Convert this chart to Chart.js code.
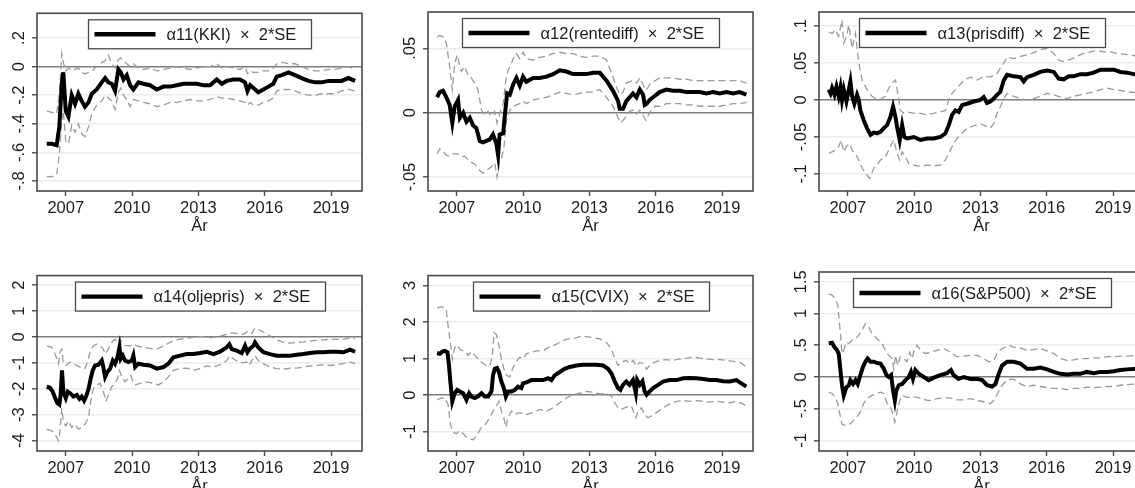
<!DOCTYPE html>
<html>
<head>
<meta charset="utf-8">
<script src="https://cdn.jsdelivr.net/npm/chart.js@4.4.1/dist/chart.umd.min.js"></script>
<style>
  html, body { margin: 0; padding: 0; background: #fff; overflow: hidden; width: 1135px; height: 488px; }
  canvas { position: absolute; }
</style>
</head>
<body>
<canvas id="p11" width="391" height="260" style="left:0;top:0"></canvas>
<canvas id="p12" width="391" height="260" style="left:391px;top:0"></canvas>
<canvas id="p13" width="391" height="260" style="left:782px;top:0"></canvas>
<canvas id="p14" width="391" height="260" style="left:0;top:260px"></canvas>
<canvas id="p15" width="391" height="260" style="left:391px;top:260px"></canvas>
<canvas id="p16" width="391" height="260" style="left:782px;top:260px"></canvas>
<script>
// rolling coefficient estimates, [year, value]
const kkiEst = [[2006.14,-.54],[2006.37,-.54],[2006.59,-.55],[2006.71,-.42],[2006.82,-.12],[2006.89,-.04],[2007.00,-.31],[2007.12,-.35],[2007.27,-.20],[2007.42,-.26],[2007.57,-.19],[2007.72,-.24],[2007.87,-.28],[2008.03,-.25],[2008.18,-.19],[2008.40,-.16],[2008.63,-.11],[2008.78,-.08],[2008.93,-.11],[2009.08,-.12],[2009.23,-.17],[2009.38,-.02],[2009.49,-.04],[2009.61,-.09],[2009.76,-.06],[2009.91,-.13],[2010.06,-.16],[2010.29,-.11],[2010.51,-.12],[2010.81,-.13],[2011.12,-.16],[2011.42,-.14],[2011.72,-.14],[2012.02,-.13],[2012.32,-.12],[2012.62,-.12],[2012.92,-.12],[2013.23,-.13],[2013.53,-.13],[2013.83,-.09],[2014.06,-.12],[2014.28,-.10],[2014.58,-.09],[2014.88,-.09],[2015.11,-.11],[2015.22,-.17],[2015.34,-.13],[2015.49,-.15],[2015.71,-.18],[2015.94,-.16],[2016.17,-.14],[2016.39,-.12],[2016.54,-.07],[2016.77,-.06],[2017.07,-.04],[2017.37,-.06],[2017.67,-.08],[2017.98,-.10],[2018.28,-.11],[2018.58,-.11],[2018.88,-.10],[2019.18,-.10],[2019.48,-.10],[2019.78,-.08],[2020.09,-.10]];
const kkiHi = [[2006.14,-.31],[2006.37,-.32],[2006.59,-.33],[2006.71,-.19],[2006.82,.09],[2006.89,.03],[2007.00,-.03],[2007.12,-.01],[2007.27,-.03],[2007.42,-.02],[2007.57,-.01],[2007.72,-.04],[2007.87,-.05],[2008.03,-.04],[2008.18,-.03],[2008.40,0],[2008.63,.03],[2008.78,.04],[2008.93,.08],[2009.08,.02],[2009.23,-.01],[2009.38,.05],[2009.49,.06],[2009.61,.04],[2009.76,.02],[2009.91,0],[2010.06,.02],[2010.29,-.01],[2010.51,-.02],[2010.81,-.01],[2011.12,-.03],[2011.42,-.02],[2011.72,-.01],[2012.02,0],[2012.32,-.01],[2012.62,-.02],[2012.92,-.01],[2013.23,0],[2013.53,0],[2013.83,.02],[2014.06,-.01],[2014.28,0],[2014.58,-.01],[2014.88,-.02],[2015.11,0],[2015.22,-.05],[2015.34,-.03],[2015.49,-.04],[2015.71,-.04],[2015.94,-.03],[2016.17,-.03],[2016.39,-.01],[2016.54,.02],[2016.77,.03],[2017.07,.02],[2017.37,.02],[2017.67,0],[2017.98,-.02],[2018.28,-.03],[2018.58,-.03],[2018.88,-.02],[2019.18,-.02],[2019.48,-.01],[2019.78,0],[2020.09,-.02]];
const kkiLo = [[2006.14,-.77],[2006.37,-.77],[2006.59,-.76],[2006.71,-.61],[2006.82,-.38],[2006.89,-.31],[2007.00,-.52],[2007.12,-.54],[2007.27,-.41],[2007.42,-.46],[2007.57,-.40],[2007.72,-.47],[2007.87,-.49],[2008.03,-.42],[2008.18,-.33],[2008.40,-.27],[2008.63,-.24],[2008.78,-.20],[2008.93,-.22],[2009.08,-.24],[2009.23,-.30],[2009.38,-.18],[2009.49,-.15],[2009.61,-.20],[2009.76,-.23],[2009.91,-.28],[2010.06,-.23],[2010.29,-.24],[2010.51,-.25],[2010.81,-.26],[2011.12,-.28],[2011.42,-.27],[2011.72,-.25],[2012.02,-.25],[2012.32,-.24],[2012.62,-.23],[2012.92,-.24],[2013.23,-.24],[2013.53,-.23],[2013.83,-.21],[2014.06,-.22],[2014.28,-.22],[2014.58,-.23],[2014.88,-.24],[2015.11,-.25],[2015.22,-.27],[2015.34,-.25],[2015.49,-.27],[2015.71,-.27],[2015.94,-.25],[2016.17,-.24],[2016.39,-.22],[2016.54,-.17],[2016.77,-.16],[2017.07,-.16],[2017.37,-.17],[2017.67,-.19],[2017.98,-.20],[2018.28,-.20],[2018.58,-.19],[2018.88,-.19],[2019.18,-.19],[2019.48,-.17],[2019.78,-.16],[2020.09,-.17]];

const renteEst = [[2006.11,.012],[2006.23,.016],[2006.38,.017],[2006.53,.012],[2006.68,.006],[2006.80,-.008],[2006.91,.005],[2007.06,.010],[2007.14,-.004],[2007.29,0],[2007.44,-.007],[2007.59,-.004],[2007.74,-.010],[2007.89,-.012],[2008.04,-.022],[2008.19,-.023],[2008.34,-.022],[2008.49,-.021],[2008.64,-.017],[2008.79,-.024],[2008.87,-.033],[2008.94,-.017],[2009.10,-.016],[2009.17,-.003],[2009.28,.015],[2009.40,.014],[2009.55,.022],[2009.70,.027],[2009.85,.021],[2010.00,.028],[2010.15,.024],[2010.45,.027],[2010.75,.027],[2011.06,.028],[2011.36,.030],[2011.66,.033],[2011.96,.032],[2012.26,.030],[2012.56,.030],[2012.86,.030],[2013.17,.031],[2013.47,.031],[2013.77,.025],[2014.07,.017],[2014.30,.009],[2014.37,.003],[2014.52,.003],[2014.67,.009],[2014.82,.012],[2014.97,.015],[2015.13,.012],[2015.28,.018],[2015.43,.014],[2015.50,.006],[2015.59,.007],[2015.73,.010],[2015.88,.012],[2016.18,.016],[2016.48,.018],[2016.78,.017],[2017.09,.017],[2017.39,.016],[2017.69,.016],[2017.99,.016],[2018.29,.015],[2018.59,.016],[2018.90,.015],[2019.20,.016],[2019.50,.015],[2019.80,.016],[2020.10,.014]];
const renteHi = [[2006.11,.059],[2006.23,.060],[2006.38,.059],[2006.53,.054],[2006.68,.036],[2006.80,.018],[2006.91,.038],[2007.02,.045],[2007.14,.036],[2007.21,.032],[2007.36,.036],[2007.51,.029],[2007.66,.027],[2007.81,.023],[2007.96,.018],[2008.12,.002],[2008.27,-.002],[2008.42,.001],[2008.57,-.003],[2008.72,.001],[2008.82,-.008],[2008.94,-.001],[2009.10,.007],[2009.22,.025],[2009.32,.033],[2009.47,.038],[2009.55,.042],[2009.70,.046],[2009.85,.042],[2010.00,.047],[2010.15,.042],[2010.45,.041],[2010.75,.043],[2011.06,.044],[2011.36,.046],[2011.66,.047],[2011.96,.046],[2012.26,.046],[2012.56,.044],[2012.86,.043],[2013.17,.044],[2013.47,.044],[2013.77,.041],[2014.00,.031],[2014.22,.020],[2014.37,.014],[2014.52,.016],[2014.67,.023],[2014.82,.024],[2014.97,.025],[2015.13,.023],[2015.28,.027],[2015.43,.022],[2015.50,.018],[2015.59,.018],[2015.73,.022],[2015.88,.024],[2016.18,.027],[2016.48,.027],[2016.78,.027],[2017.09,.026],[2017.39,.026],[2017.69,.025],[2017.99,.025],[2018.29,.025],[2018.59,.025],[2018.90,.025],[2019.20,.025],[2019.50,.025],[2019.80,.025],[2020.10,.023]];
const renteLo = [[2006.11,-.032],[2006.23,-.028],[2006.38,-.030],[2006.53,-.033],[2006.68,-.034],[2006.83,-.032],[2007.06,-.032],[2007.21,-.034],[2007.36,-.034],[2007.59,-.038],[2007.81,-.040],[2008.04,-.045],[2008.19,-.047],[2008.34,-.045],[2008.57,-.042],[2008.72,-.039],[2008.82,-.050],[2008.91,-.039],[2009.02,-.035],[2009.13,-.028],[2009.25,-.006],[2009.40,.002],[2009.55,.005],[2009.70,.006],[2009.85,.007],[2010.00,.009],[2010.15,.007],[2010.45,.010],[2010.75,.011],[2011.06,.012],[2011.36,.014],[2011.66,.016],[2011.96,.015],[2012.26,.014],[2012.56,.015],[2012.86,.016],[2013.17,.016],[2013.47,.018],[2013.77,.012],[2014.07,.005],[2014.30,-.004],[2014.40,-.008],[2014.52,-.006],[2014.67,-.003],[2014.82,.001],[2014.97,.002],[2015.13,-.001],[2015.28,.002],[2015.43,-.002],[2015.55,-.006],[2015.66,-.002],[2015.80,.002],[2015.96,.005],[2016.18,.005],[2016.48,.007],[2016.78,.007],[2017.09,.007],[2017.39,.006],[2017.69,.006],[2017.99,.005],[2018.29,.005],[2018.59,.005],[2018.90,.005],[2019.20,.006],[2019.50,.007],[2019.80,.007],[2020.10,.008]];

const prisEst = [[2006.14,.014],[2006.22,.009],[2006.29,.016],[2006.40,.007],[2006.49,.018],[2006.59,.005],[2006.67,.017],[2006.74,0],[2006.82,.014],[2006.94,-.002],[2007.05,.014],[2007.12,.025],[2007.20,.005],[2007.30,-.005],[2007.42,.007],[2007.50,0],[2007.57,-.014],[2007.72,-.027],[2007.87,-.038],[2008.03,-.047],[2008.18,-.044],[2008.33,-.045],[2008.48,-.043],[2008.63,-.038],[2008.78,-.034],[2008.93,-.023],[2009.05,-.009],[2009.16,-.023],[2009.23,-.036],[2009.35,-.054],[2009.46,-.034],[2009.56,-.050],[2009.68,-.052],[2009.99,-.050],[2010.29,-.054],[2010.59,-.052],[2010.89,-.052],[2011.19,-.050],[2011.42,-.045],[2011.57,-.034],[2011.72,-.020],[2011.87,-.014],[2012.02,-.016],[2012.17,-.007],[2012.40,-.005],[2012.70,-.002],[2013.00,0],[2013.15,.004],[2013.30,-.004],[2013.45,-.002],[2013.60,.002],[2013.75,.007],[2013.90,.011],[2014.06,.027],[2014.21,.034],[2014.51,.032],[2014.81,.031],[2014.96,.025],[2015.11,.031],[2015.41,.034],[2015.71,.038],[2016.02,.040],[2016.32,.038],[2016.54,.029],[2016.77,.028],[2017.00,.032],[2017.22,.032],[2017.52,.035],[2017.82,.035],[2018.13,.037],[2018.43,.041],[2018.73,.041],[2019.03,.041],[2019.33,.038],[2019.63,.037],[2020.09,.034]];
const prisHi = [[2006.14,.092],[2006.29,.090],[2006.44,.095],[2006.59,.086],[2006.74,.108],[2006.82,.077],[2006.94,.086],[2007.05,.101],[2007.20,.070],[2007.35,.090],[2007.50,.050],[2007.65,.027],[2007.87,.014],[2008.10,.005],[2008.25,.002],[2008.48,.001],[2008.70,.005],[2008.85,.016],[2009.01,.023],[2009.16,.027],[2009.26,.009],[2009.38,-.014],[2009.53,-.018],[2009.68,-.016],[2009.99,-.018],[2010.29,-.018],[2010.59,-.020],[2010.89,-.018],[2011.19,-.016],[2011.42,-.014],[2011.57,0],[2011.72,.009],[2011.94,.016],[2012.25,.027],[2012.55,.031],[2012.85,.027],[2013.15,.032],[2013.45,.031],[2013.75,.036],[2013.90,.043],[2014.06,.050],[2014.21,.058],[2014.51,.056],[2014.81,.059],[2015.11,.061],[2015.41,.064],[2015.71,.068],[2016.02,.070],[2016.32,.063],[2016.54,.054],[2016.77,.052],[2017.07,.055],[2017.37,.059],[2017.67,.063],[2017.98,.065],[2018.28,.067],[2018.58,.065],[2018.88,.065],[2019.18,.063],[2019.48,.062],[2019.78,.061],[2020.09,.059]];
const prisLo = [[2006.14,-.072],[2006.29,-.070],[2006.44,-.068],[2006.59,-.063],[2006.70,-.054],[2006.82,-.070],[2006.94,-.063],[2007.09,-.059],[2007.20,-.068],[2007.35,-.073],[2007.50,-.081],[2007.65,-.092],[2007.80,-.099],[2007.99,-.106],[2008.18,-.092],[2008.33,-.088],[2008.48,-.081],[2008.70,-.077],[2008.93,-.063],[2009.08,-.054],[2009.23,-.072],[2009.35,-.081],[2009.46,-.070],[2009.61,-.077],[2009.76,-.086],[2009.99,-.088],[2010.29,-.090],[2010.59,-.088],[2010.89,-.089],[2011.19,-.088],[2011.42,-.081],[2011.57,-.072],[2011.72,-.063],[2011.94,-.052],[2012.17,-.045],[2012.40,-.038],[2012.70,-.035],[2013.00,-.032],[2013.30,-.036],[2013.45,-.038],[2013.60,-.032],[2013.75,-.018],[2013.90,-.009],[2014.06,.002],[2014.21,.009],[2014.51,.005],[2014.81,.002],[2015.11,0],[2015.41,.002],[2015.71,.005],[2016.02,.009],[2016.32,.007],[2016.62,.004],[2016.92,.002],[2017.22,.005],[2017.52,.007],[2017.82,.009],[2018.13,.011],[2018.43,.014],[2018.73,.016],[2019.03,.014],[2019.33,.013],[2019.63,.011],[2020.09,.010]];

const oljeEst = [[2006.14,-1.92],[2006.29,-1.96],[2006.41,-2.11],[2006.52,-2.36],[2006.62,-2.55],[2006.71,-2.61],[2006.77,-2.23],[2006.83,-1.29],[2006.89,-2.11],[2007.00,-2.36],[2007.09,-2.11],[2007.20,-2.17],[2007.35,-2.30],[2007.50,-2.24],[2007.62,-2.39],[2007.72,-2.30],[2007.83,-2.46],[2007.92,-2.30],[2008.03,-2.01],[2008.13,-1.60],[2008.22,-1.29],[2008.33,-1.10],[2008.48,-1.07],[2008.63,-.91],[2008.70,-1.16],[2008.78,-1.54],[2008.88,-1.35],[2009.01,-1.22],[2009.13,-.91],[2009.23,-1.03],[2009.34,-.78],[2009.43,-.40],[2009.49,-.84],[2009.58,-.72],[2009.68,-.91],[2009.83,-.97],[2009.99,-.91],[2010.06,-.72],[2010.14,-1.16],[2010.29,-1.03],[2010.51,-1.07],[2010.81,-1.10],[2011.12,-1.22],[2011.42,-1.16],[2011.64,-1.03],[2011.87,-.78],[2012.17,-.72],[2012.47,-.66],[2012.77,-.66],[2013.08,-.62],[2013.38,-.57],[2013.68,-.66],[2013.98,-.57],[2014.28,-.40],[2014.40,-.28],[2014.51,-.47],[2014.73,-.53],[2014.96,-.62],[2015.11,-.34],[2015.22,-.59],[2015.34,-.44],[2015.49,-.34],[2015.56,-.21],[2015.71,-.40],[2015.94,-.59],[2016.24,-.66],[2016.54,-.72],[2016.84,-.72],[2017.15,-.72],[2017.45,-.69],[2017.75,-.66],[2018.05,-.62],[2018.35,-.59],[2018.65,-.59],[2018.96,-.57],[2019.26,-.57],[2019.56,-.59],[2019.86,-.49],[2020.09,-.57]];
const oljeHi = [[2006.14,-.34],[2006.37,-.40],[2006.52,-.66],[2006.67,-1.03],[2006.74,-.59],[2006.82,-.47],[2006.89,-1.03],[2007.00,-1.10],[2007.20,-.97],[2007.42,-1.07],[2007.65,-1.16],[2007.87,-1.22],[2007.98,-.97],[2008.10,-.59],[2008.25,-.34],[2008.40,-.28],[2008.55,-.34],[2008.70,-.47],[2008.78,-.66],[2008.93,-.47],[2009.08,-.21],[2009.23,-.09],[2009.34,-.21],[2009.43,-.06],[2009.53,-.21],[2009.68,-.32],[2009.91,-.34],[2010.06,-.28],[2010.21,-.34],[2010.51,-.40],[2010.81,-.44],[2011.12,-.47],[2011.42,-.34],[2011.72,-.21],[2012.02,-.11],[2012.32,-.06],[2012.62,-.03],[2012.92,.01],[2013.23,.01],[2013.53,-.03],[2013.83,.01],[2014.13,.06],[2014.43,.16],[2014.73,.14],[2015.04,.10],[2015.26,.23],[2015.41,.14],[2015.56,.35],[2015.71,.29],[2015.94,.19],[2016.24,.04],[2016.54,-.11],[2016.84,-.21],[2017.15,-.24],[2017.45,-.21],[2017.75,-.19],[2018.05,-.15],[2018.35,-.13],[2018.65,-.11],[2018.96,-.09],[2019.26,-.09],[2019.56,-.09],[2019.86,-.03],[2020.09,-.06]];
const oljeLo = [[2006.14,-3.56],[2006.37,-3.62],[2006.52,-3.75],[2006.67,-4.00],[2006.74,-3.62],[2006.82,-2.74],[2006.89,-3.24],[2007.00,-3.43],[2007.12,-3.24],[2007.27,-3.49],[2007.42,-3.37],[2007.57,-3.56],[2007.72,-3.49],[2007.87,-3.37],[2008.03,-3.11],[2008.13,-2.48],[2008.25,-1.98],[2008.40,-1.85],[2008.55,-1.79],[2008.70,-2.11],[2008.82,-2.48],[2008.93,-2.23],[2009.08,-1.92],[2009.23,-1.79],[2009.34,-1.60],[2009.43,-1.29],[2009.53,-1.54],[2009.68,-1.73],[2009.83,-1.60],[2009.94,-1.48],[2010.03,-1.73],[2010.14,-1.85],[2010.36,-1.79],[2010.66,-1.73],[2010.97,-1.79],[2011.19,-1.85],[2011.42,-1.73],[2011.64,-1.54],[2011.87,-1.29],[2012.17,-1.22],[2012.47,-1.20],[2012.77,-1.29],[2013.08,-1.22],[2013.38,-1.12],[2013.68,-1.16],[2013.98,-1.07],[2014.28,-.91],[2014.43,-.72],[2014.58,-.84],[2014.88,-1.00],[2015.19,-.97],[2015.31,-1.10],[2015.41,-.91],[2015.56,-.72],[2015.71,-.91],[2015.94,-1.03],[2016.24,-1.16],[2016.54,-1.22],[2016.84,-1.25],[2017.15,-1.20],[2017.45,-1.20],[2017.75,-1.16],[2018.05,-1.12],[2018.35,-1.10],[2018.65,-1.07],[2018.96,-1.10],[2019.26,-1.07],[2019.56,-1.03],[2019.86,-.97],[2020.09,-1.03]];

const cvixEst = [[2006.11,1.15],[2006.23,1.13],[2006.35,1.19],[2006.46,1.21],[2006.58,1.17],[2006.65,.81],[2006.71,.37],[2006.80,-.17],[2006.91,.05],[2007.02,.14],[2007.14,.10],[2007.29,.05],[2007.44,-.13],[2007.56,.05],[2007.66,-.04],[2007.81,-.08],[2007.96,-.04],[2008.12,.05],[2008.27,-.04],[2008.42,-.04],[2008.57,.10],[2008.64,.54],[2008.72,.72],[2008.82,.74],[2008.91,.63],[2009.02,.37],[2009.13,.19],[2009.22,-.04],[2009.32,.10],[2009.47,.10],[2009.62,.14],[2009.77,.23],[2009.92,.19],[2010.00,.32],[2010.15,.35],[2010.38,.41],[2010.60,.41],[2010.90,.41],[2011.13,.46],[2011.28,.41],[2011.43,.54],[2011.66,.63],[2011.88,.72],[2012.11,.77],[2012.41,.81],[2012.71,.83],[2013.02,.83],[2013.32,.83],[2013.62,.81],[2013.84,.72],[2014.00,.59],[2014.15,.37],[2014.30,.19],[2014.40,.14],[2014.52,.28],[2014.67,.37],[2014.82,.28],[2014.97,.41],[2015.10,.05],[2015.16,.41],[2015.28,.28],[2015.40,.38],[2015.50,.10],[2015.59,.01],[2015.73,.10],[2015.88,.19],[2016.11,.28],[2016.33,.37],[2016.63,.41],[2016.94,.41],[2017.24,.46],[2017.54,.47],[2017.84,.46],[2018.14,.44],[2018.44,.41],[2018.74,.41],[2019.05,.38],[2019.35,.37],[2019.65,.41],[2019.87,.32],[2020.10,.23]];
const cvixHi = [[2006.11,2.38],[2006.31,2.42],[2006.46,2.38],[2006.53,2.33],[2006.61,1.88],[2006.71,1.44],[2006.80,.99],[2006.91,1.30],[2007.02,1.37],[2007.14,1.26],[2007.29,1.21],[2007.44,1.17],[2007.51,1.08],[2007.66,1.19],[2007.89,1.04],[2008.12,.90],[2008.34,.81],[2008.49,.79],[2008.61,1.08],[2008.69,1.71],[2008.79,1.66],[2008.91,1.35],[2009.02,.99],[2009.13,.72],[2009.25,.54],[2009.40,.50],[2009.52,.72],[2009.67,.90],[2009.85,1.04],[2010.00,.99],[2010.15,1.13],[2010.38,1.17],[2010.60,1.21],[2010.90,1.21],[2011.13,1.30],[2011.36,1.35],[2011.66,1.44],[2011.96,1.53],[2012.26,1.54],[2012.56,1.60],[2012.86,1.60],[2013.17,1.57],[2013.47,1.54],[2013.77,1.44],[2014.00,1.26],[2014.15,.99],[2014.30,.81],[2014.45,.90],[2014.67,.95],[2014.82,.86],[2014.97,.95],[2015.13,.79],[2015.28,.90],[2015.43,.86],[2015.59,.71],[2015.73,.81],[2015.88,.88],[2016.18,.95],[2016.48,.97],[2016.78,.95],[2017.09,.99],[2017.39,1.01],[2017.69,1.04],[2017.99,1.01],[2018.29,.99],[2018.59,.97],[2018.90,.97],[2019.20,.95],[2019.50,.92],[2019.80,.90],[2020.10,.77]];
const cvixLo = [[2006.11,-.13],[2006.31,-.08],[2006.46,-.08],[2006.61,-.26],[2006.71,-.79],[2006.83,-1.02],[2006.98,-1.06],[2007.14,-.97],[2007.29,-1.06],[2007.44,-1.15],[2007.59,-1.20],[2007.74,-1.22],[2007.89,-1.11],[2008.12,-.88],[2008.31,-.79],[2008.49,-.62],[2008.64,-.44],[2008.79,-.30],[2008.91,-.17],[2009.02,-.44],[2009.13,-.62],[2009.22,-.88],[2009.32,-.62],[2009.47,-.44],[2009.62,-.53],[2009.85,-.48],[2010.15,-.53],[2010.45,-.48],[2010.75,-.39],[2011.06,-.44],[2011.36,-.35],[2011.66,-.21],[2011.96,-.08],[2012.26,.01],[2012.56,.05],[2012.86,.10],[2013.17,.08],[2013.47,.03],[2013.77,.05],[2014.00,-.04],[2014.15,-.21],[2014.30,-.35],[2014.45,-.39],[2014.67,-.33],[2014.90,-.30],[2015.10,-.62],[2015.20,-.44],[2015.35,-.35],[2015.50,-.53],[2015.65,-.62],[2015.80,-.57],[2016.03,-.48],[2016.33,-.35],[2016.63,-.24],[2016.94,-.17],[2017.24,-.15],[2017.54,-.17],[2017.84,-.15],[2018.14,-.17],[2018.44,-.19],[2018.74,-.17],[2019.05,-.19],[2019.35,-.21],[2019.65,-.17],[2019.95,-.24],[2020.10,-.30]];

const spEst = [[2006.14,.53],[2006.29,.54],[2006.40,.47],[2006.52,.42],[2006.59,.37],[2006.67,.11],[2006.74,-.13],[2006.82,-.29],[2006.94,-.16],[2007.05,-.13],[2007.12,-.05],[2007.24,-.11],[2007.35,-.05],[2007.45,-.11],[2007.57,.03],[2007.69,.16],[2007.80,.24],[2007.90,.29],[2008.03,.24],[2008.18,.24],[2008.33,.22],[2008.48,.21],[2008.63,.13],[2008.75,.03],[2008.85,0],[2008.96,.03],[2009.05,-.21],[2009.13,-.37],[2009.20,-.21],[2009.31,-.13],[2009.46,-.11],[2009.61,-.05],[2009.76,0],[2009.86,.08],[2009.95,-.03],[2010.06,.11],[2010.21,.05],[2010.44,0],[2010.66,-.05],[2010.89,-.01],[2011.19,.03],[2011.49,.06],[2011.67,.11],[2011.79,.03],[2012.02,-.03],[2012.25,0],[2012.55,-.03],[2012.85,-.03],[2013.08,-.05],[2013.30,-.13],[2013.53,-.15],[2013.68,-.11],[2013.83,.05],[2013.98,.18],[2014.21,.24],[2014.51,.24],[2014.81,.21],[2015.11,.13],[2015.41,.13],[2015.71,.15],[2016.02,.12],[2016.32,.08],[2016.62,.05],[2016.92,.04],[2017.22,.05],[2017.52,.05],[2017.82,.08],[2018.13,.06],[2018.43,.08],[2018.73,.08],[2019.03,.09],[2019.33,.11],[2019.63,.12],[2020.09,.13]];
const spHi = [[2006.14,1.31],[2006.29,1.29],[2006.44,1.23],[2006.55,1.13],[2006.67,.68],[2006.74,.37],[2006.82,.42],[2006.94,.55],[2007.05,.53],[2007.20,.58],[2007.35,.60],[2007.50,.66],[2007.65,.74],[2007.80,.84],[2007.95,.79],[2008.10,.68],[2008.25,.63],[2008.40,.58],[2008.55,.53],[2008.70,.42],[2008.85,.34],[2009.01,.29],[2009.08,.13],[2009.16,.34],[2009.26,.18],[2009.38,.32],[2009.53,.29],[2009.68,.24],[2009.80,.39],[2009.91,.29],[2010.02,.45],[2010.14,.50],[2010.29,.42],[2010.51,.37],[2010.74,.39],[2011.04,.42],[2011.34,.45],[2011.64,.39],[2011.94,.32],[2012.25,.33],[2012.55,.34],[2012.85,.34],[2013.15,.29],[2013.38,.24],[2013.60,.26],[2013.75,.37],[2013.90,.43],[2014.06,.46],[2014.28,.50],[2014.51,.47],[2014.81,.46],[2015.11,.42],[2015.41,.43],[2015.71,.45],[2016.02,.41],[2016.32,.37],[2016.62,.29],[2016.92,.26],[2017.22,.27],[2017.52,.29],[2017.82,.29],[2018.13,.30],[2018.43,.30],[2018.73,.32],[2019.03,.32],[2019.33,.33],[2019.63,.33],[2020.09,.34]];
const spLo = [[2006.14,-.24],[2006.29,-.26],[2006.44,-.32],[2006.55,-.42],[2006.67,-.63],[2006.74,-.74],[2006.85,-.76],[2006.97,-.74],[2007.12,-.74],[2007.27,-.68],[2007.42,-.63],[2007.57,-.55],[2007.72,-.42],[2007.87,-.34],[2008.10,-.29],[2008.33,-.26],[2008.48,-.24],[2008.63,-.26],[2008.78,-.42],[2008.93,-.47],[2009.04,-.58],[2009.13,-.71],[2009.23,-.55],[2009.35,-.37],[2009.46,-.29],[2009.68,-.32],[2009.91,-.31],[2010.14,-.32],[2010.36,-.34],[2010.59,-.37],[2010.81,-.37],[2011.04,-.34],[2011.34,-.33],[2011.64,-.33],[2011.94,-.36],[2012.25,-.36],[2012.55,-.34],[2012.85,-.37],[2013.15,-.39],[2013.45,-.42],[2013.60,-.37],[2013.78,-.26],[2013.98,-.13],[2014.21,-.05],[2014.43,-.03],[2014.58,-.05],[2014.81,-.11],[2015.11,-.15],[2015.41,-.13],[2015.71,-.15],[2016.02,-.17],[2016.32,-.18],[2016.62,-.18],[2016.92,-.20],[2017.22,-.18],[2017.52,-.18],[2017.82,-.16],[2018.13,-.17],[2018.43,-.16],[2018.73,-.15],[2019.03,-.15],[2019.33,-.13],[2019.63,-.12],[2020.09,-.11]];

// axis ticks
const yearTicks = [2007, 2010, 2013, 2016, 2019];
const kkiTicks = [-.8, -.6, -.4, -.2, 0, .2];
const renteTicks = [-.05, 0, .05];
const prisTicks = [-.1, -.05, 0, .05, .1];
const oljeTicks = [-4, -3, -2, -1, 0, 1, 2];
const cvixTicks = [-1, 0, 1, 2, 3];
const spTicks = [-1, -.5, 0, .5, 1, 1.5];

const FAMILY = '"Liberation Sans", Arial, sans-serif';
const FS = 16.5;
const INK = '#1c1c1c';
const FRAME = '#4a4a4a';

Chart.defaults.font.family = FAMILY;
Chart.defaults.font.size = FS;
Chart.defaults.color = INK;

// stata style number labels: .5, -.05, 1.5
function stataNum(v) {
  const s = String(Math.round(v * 1000) / 1000);
  return s.replace(/^(-?)0\./, '$1.');
}

const pts = arr => arr.map(([x, y]) => ({x, y}));

const meas = document.createElement('canvas').getContext('2d');
meas.font = FS + 'px ' + FAMILY;

// box around the plot region
const frame = {
  id: 'frame',
  afterDraw(chart) {
    const {ctx, chartArea: a} = chart;
    ctx.save();
    ctx.strokeStyle = FRAME;
    ctx.lineWidth = 1.6;
    ctx.strokeRect(a.left, a.top, a.right - a.left, a.bottom - a.top);
    ctx.restore();
  }
};

// stata-like key: framed box on top of the plot region
const keyBox = {
  id: 'keyBox',
  afterDatasetsDraw(chart) {
    const {ctx, chartArea: a} = chart;
    const label = chart.data.datasets[0].label;
    ctx.save();
    ctx.font = FS + 'px ' + FAMILY;
    const tw = ctx.measureText(label).width;
    const w = Math.round(6 + 61 + 11 + tw + 15);
    const h = 29;
    const x0 = Math.round((a.left + a.right) / 2 - w / 2) + 0.5;
    const y0 = a.top + 6.5;
    ctx.fillStyle = '#fff';
    ctx.fillRect(x0, y0, w, h);
    ctx.strokeStyle = FRAME;
    ctx.lineWidth = 1.3;
    ctx.strokeRect(x0, y0, w, h);
    ctx.beginPath();
    ctx.moveTo(x0 + 6, y0 + h / 2);
    ctx.lineTo(x0 + 67, y0 + h / 2);
    ctx.strokeStyle = '#000';
    ctx.lineWidth = 4.3;
    ctx.stroke();
    ctx.fillStyle = INK;
    ctx.textBaseline = 'middle';
    ctx.fillText(label, x0 + 78, y0 + h / 2 + 1);
    ctx.restore();
  }
};

function makePanel(id, label, est, hi, lo, yTicks, yMin, yMax) {
  const widest = Math.max(...yTicks.map(v => meas.measureText(stataNum(v)).width));
  const band = data => ({
    data: pts(data),
    borderColor: '#9a9a9a',
    borderWidth: 1.3,
    borderDash: [7, 4],
    pointRadius: 0,
    fill: false
  });
  return new Chart(document.getElementById(id), {
    type: 'line',
    data: {
      datasets: [
        { label, data: pts(est), borderColor: '#000', borderWidth: 4, pointRadius: 0, fill: false },
        band(hi),
        band(lo)
      ]
    },
    options: {
      responsive: false,
      animation: false,
      layout: { padding: { left: 0, top: 12, right: 29, bottom: 24 } },
      plugins: { legend: { display: false }, tooltip: { enabled: false } },
      scales: {
        x: {
          type: 'linear',
          min: 2005.7,
          max: 2020.4,
          afterBuildTicks: s => { s.ticks = yearTicks.map(v => ({value: v})); },
          afterFit: s => { s.height = 45; },
          grid: { drawOnChartArea: false, drawTicks: true, tickLength: 5, tickColor: FRAME, tickWidth: 1.4 },
          border: { display: false },
          ticks: { autoSkip: false, maxRotation: 0, padding: 3, color: INK, callback: v => String(v) },
          title: { display: true, text: 'År', color: INK, font: { size: FS }, padding: { top: 0, bottom: 0 } }
        },
        y: {
          min: yMin,
          max: yMax,
          afterBuildTicks: s => { s.ticks = yTicks.map(v => ({value: v})); },
          afterFit: s => { s.width = 37; },
          grid: {
            drawTicks: true,
            tickLength: 5,
            tickColor: FRAME,
            tickWidth: 1.4,
            color: c => c.tick && c.tick.value === 0 ? '#7d7d7d' : '#ececec',
            lineWidth: c => c.tick && c.tick.value === 0 ? 1.4 : 1.6
          },
          border: { display: false },
          ticks: {
            autoSkip: false,
            minRotation: 90,
            maxRotation: 90,
            crossAlign: 'center',
            padding: 13 - widest / 2,
            color: INK,
            callback: v => stataNum(v)
          }
        }
      }
    },
    plugins: [frame, keyBox]
  });
}

makePanel('p11', 'α11(KKI)  ×  2*SE', kkiEst, kkiHi, kkiLo, kkiTicks, -0.87, 0.373);
makePanel('p12', 'α12(rentediff)  ×  2*SE', renteEst, renteHi, renteLo, renteTicks, -0.0609, 0.0783);
makePanel('p13', 'α13(prisdiff)  ×  2*SE', prisEst, prisHi, prisLo, prisTicks, -0.123, 0.119);
makePanel('p14', 'α14(oljepris)  ×  2*SE', oljeEst, oljeHi, oljeLo, oljeTicks, -4.40, 2.37);
makePanel('p15', 'α15(CVIX)  ×  2*SE', cvixEst, cvixHi, cvixLo, cvixTicks, -1.53, 3.27);
makePanel('p16', 'α16(S&P500)  ×  2*SE', spEst, spHi, spLo, spTicks, -1.166, 1.654);
</script>
</body>
</html>
